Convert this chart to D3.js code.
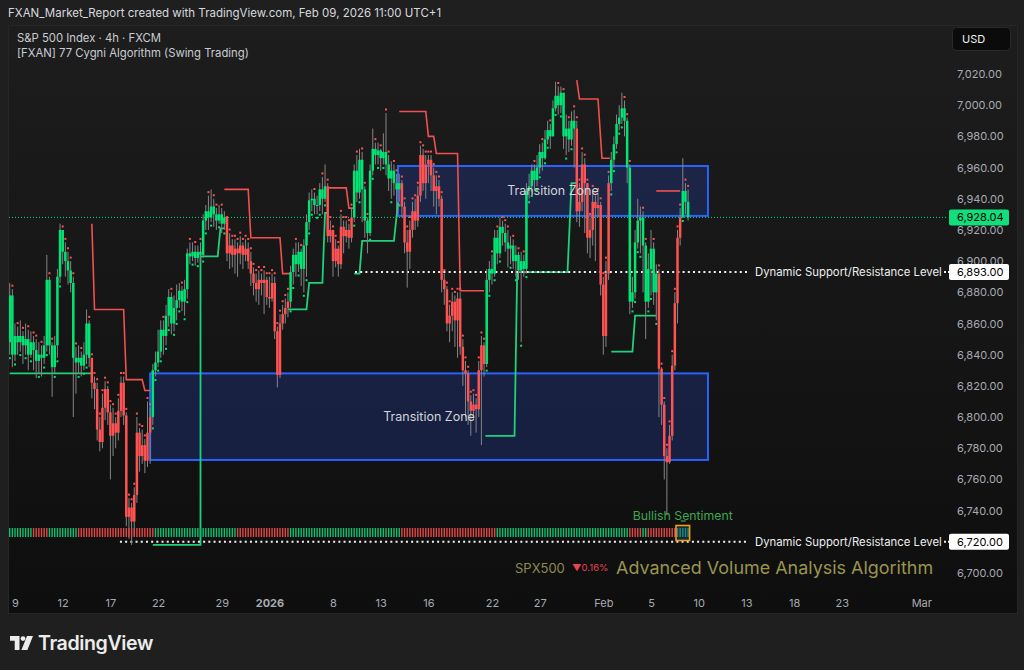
<!DOCTYPE html>
<html><head><meta charset="utf-8">
<script src="https://cdn.jsdelivr.net/npm/d3@7"></script>
<style>
html,body{margin:0;padding:0;background:#1f1f1f;}
svg{display:block;font-family:Inter,"Noto Sans",sans-serif;}
</style></head><body>
<svg id="c" width="1024" height="670"></svg>
<script>
// ---------------- DATA ----------------
const title = "FXAN_Market_Report created with TradingView.com, Feb 09, 2026 11:00 UTC+1";
const legendLines = ["S&P 500 Index · 4h · FXCM", "[FXAN] 77 Cygni Algorithm (Swing Trading)"];
const firstOpen = 6848;
const closes = [
6878,6840,6852,6848,6852,6846,6850,6840,6848,6843,
6836,6840,6838,6846,6888,6846,6832,6846,6890,6920,
6906,6900,6894,6886,6838,6835,6838,6833,6840,6860,
6838,6822,6818,6792,6784,6806,6818,6803,6788,6796,
6790,6804,6822,6801,6736,6742,6733,6750,6790,6775,
6782,6772,6790,6800,6830,6835,6842,6856,6852,6865,
6877,6860,6870,6875,6881,6874,6882,6905,6903,6906,
6902,6906,6904,6926,6932,6928,6935,6930,6926,6930,
6924,6928,6905,6910,6904,6908,6905,6910,6904,6908,
6900,6892,6886,6882,6888,6886,6888,6877,6876,6886,
6855,6827,6860,6866,6870,6874,6893,6904,6898,6906,
6895,6910,6925,6939,6940,6936,6936,6946,6940,6948,
6916,6920,6900,6908,6898,6922,6916,6920,6915,6928,
6958,6944,6965,6946,6926,6918,6958,6972,6968,6971,
6966,6970,6962,6953,6958,6950,6946,6950,6935,6912,
6906,6920,6932,6926,6942,6968,6950,6962,6965,6955,
6945,6948,6940,6888,6882,6860,6865,6874,6862,6876,
6845,6830,6828,6810,6804,6808,6805,6830,6846,6834,
6888,6895,6892,6915,6905,6922,6918,6912,6908,6910,
6900,6904,6894,6900,6895,6945,6948,6958,6952,6960,
6970,6966,6978,6984,6980,6998,7006,7000,7008,6980,
6985,6978,6990,6985,6932,6938,6962,6950,6915,6920,
6938,6934,6936,6885,6852,6892,6950,6965,6975,6988,
6992,6998,6990,6960,6874,6880,6912,6926,6928,6910,
6874,6895,6908,6880,6892,6831,6808,6775,6771,6788,
6833,6873,6915,6928,6945,6938,6928.04];
const highs = [
6886,6882,6860,6858,6862,6855,6860,6856,6855,6852,
6850,6848,6846,6852,6904,6890,6848,6852,6895,6924,
6920,6912,6906,6900,6890,6845,6846,6842,6848,6869,
6862,6838,6826,6822,6800,6815,6823,6820,6808,6806,
6800,6812,6826,6826,6803,6748,6745,6755,6800,6793,
6792,6786,6810,6806,6834,6842,6856,6862,6862,6872,
6882,6880,6878,6885,6886,6884,6888,6908,6912,6912,
6910,6910,6912,6930,6936,6942,6946,6940,6934,6936,
6934,6932,6926,6918,6914,6914,6912,6916,6912,6914,
6912,6906,6896,6892,6894,6892,6894,6890,6890,6892,
6890,6858,6866,6872,6876,6880,6897,6908,6912,6912,
6908,6914,6930,6944,6946,6944,6942,6950,6954,6962,
6950,6926,6920,6914,6910,6930,6926,6926,6924,6934,
6962,6968,6972,6970,6948,6928,6962,6985,6976,6976,
6972,6982,6995,6968,6964,6962,6956,6956,6952,6938,
6920,6926,6938,6940,6948,6974,6972,6968,6968,6968,
6960,6955,6952,6942,6892,6884,6872,6880,6878,6880,
6880,6850,6836,6830,6814,6815,6812,6836,6852,6848,
6895,6900,6904,6920,6920,6928,6926,6924,6920,6916,
6914,6910,6906,6906,6904,6950,6956,6962,6962,6968,
6975,6976,6984,6990,6988,7003,7015,7012,7012,7008,
6994,6990,6996,6997,6990,6950,6970,6966,6950,6928,
6946,6942,6944,6938,6890,6900,6955,6970,6980,6994,
7000,7008,7003,6992,6962,6890,6920,6940,6935,6932,
6912,6905,6920,6912,6898,6895,6832,6810,6780,6795,
6840,6880,6920,6934,6966,6950,6946];
const lows = [
6840,6832,6836,6840,6842,6834,6840,6830,6838,6830,
6825,6828,6826,6834,6842,6840,6813,6828,6838,6886,
6898,6890,6885,6880,6800,6815,6828,6826,6830,6834,
6832,6812,6805,6785,6778,6780,6798,6795,6760,6775,
6780,6785,6800,6795,6730,6722,6718,6724,6745,6765,
6770,6764,6768,6770,6795,6826,6832,6838,6840,6846,
6858,6853,6855,6862,6870,6868,6865,6876,6898,6900,
6897,6899,6899,6902,6920,6920,6925,6922,6920,6924,
6918,6920,6900,6895,6896,6892,6890,6898,6895,6900,
6895,6884,6878,6874,6872,6878,6866,6872,6870,6874,
6850,6819,6825,6856,6860,6864,6870,6885,6890,6893,
6884,6880,6890,6920,6932,6930,6930,6932,6930,6938,
6912,6912,6890,6896,6890,6895,6905,6912,6908,6912,
6925,6938,6940,6925,6915,6905,6916,6955,6962,6962,
6958,6962,6955,6945,6940,6942,6930,6938,6928,6905,
6883,6895,6915,6920,6922,6938,6945,6940,6950,6945,
6935,6930,6935,6880,6872,6855,6848,6855,6845,6838,
6840,6820,6800,6795,6788,6798,6790,6800,6782,6826,
6832,6880,6885,6890,6898,6902,6910,6906,6896,6898,
6895,6890,6888,6848,6890,6892,6940,6944,6946,6948,
6956,6958,6965,6975,6972,6984,6996,6994,6995,6972,
6968,6970,6974,6960,6925,6922,6932,6918,6905,6902,
6910,6900,6928,6878,6840,6845,6888,6945,6960,6972,
6984,6988,6980,6950,6866,6870,6876,6908,6905,6880,
6850,6870,6878,6872,6862,6800,6795,6760,6737,6770,
6785,6830,6860,6910,6928,6930,6926];
// trend colouring of candles (run-length: regime, number of bars)
const regimeRuns = [["up",31],["down",23],["up",28],["down",24],["up",14],["down",10],["up",18],["down",32],["up",34],["down",13],["up",18],["down",9],["up",3]];
// volume-analysis strip colouring (run-length)
const stripRuns = [["up",9],["down",6],["up",11],["down",29],["up",31],["down",20],["up",42],["down",36],["up",50],["down",5],["up",2],["down",11],["signal",5]];
// trailing resistance / support (bar index, price)
const resistanceSegments = [
  [[31,6924],[32,6869],[43,6869],[44,6824],[50,6824],[51,6817],[53,6817]],
  [[81,6946],[90,6946],[91,6915],[102,6915],[103,6892],[106,6892]],
  [[120,6947],[127,6947],[128,6934],[130,6934]],
  [[147,6996],[157,6996],[158,6980],[160,6980],[161,6969],[169,6969],[170,6881],[179,6881]],
  [[214,7016],[215,7004],[222,7004],[223.5,6966],[226.5,6966]],
  [[244,6945],[253,6945]]
];
const supportSegments = [
  [[0,6828],[31,6828]],
  [[54,6718],[72,6718],[72,6903],[78.5,6903],[79.5,6921],[81,6921]],
  [[105,6869],[112,6869],[113,6886],[118,6886],[119,6931],[120,6931]],
  [[130,6892],[132,6892],[133,6913],[145,6913],[146.5,6937],[147,6937]],
  [[179.5,6788],[190.5,6788],[191.5,6893],[210.5,6893],[212,6950],[214,6950]],
  [[227,6842],[235,6842],[236,6865],[244,6865]]
];
const zones = [
  {from:53, to:263.5, top:6828, bottom:6772.5, label:"Transition Zone"},
  {from:146.5, to:263.5, top:6961, bottom:6929, label:"Transition Zone"}
];
const levels = [{price:6893, from:130.3, to:278.6}, {price:6720, from:41.6, to:278.6}];
const levelLabel = "Dynamic Support/Resistance Level";
const lastPrice = 6928.04;
const priceTicks = [6700,6720,6740,6760,6780,6800,6820,6840,6860,6880,6900,6920,6940,6960,6980,7000,7020];
const dayTicks = [0,3,6,9,13,16,20,23,26,30,33,37,40,43,46,49,52,57];
const dayTickLabels = ["9","12","17","22","29","2026","8","13","16","22","27","Feb","5","10","13","18","23","Mar"];
const barsPerDay = 6;
const barsBeforeFirstTick = 2;
const sentimentText = "Bullish Sentiment";
const symbolText = "SPX500", changeText = "▼0.16%", footerTitle = "Advanced Volume Analysis Algorithm";

// ---------------- CHART ----------------
const svg = d3.select("#c");
const defs = svg.append("defs");
const grad = defs.append("linearGradient").attr("id","bg").attr("x1",0).attr("x2",0).attr("y1",0).attr("y2",1);
grad.append("stop").attr("offset","0%").attr("stop-color","#1d1d1d");
grad.append("stop").attr("offset","100%").attr("stop-color","#0e0e0e");
defs.append("clipPath").attr("id","plot").append("rect").attr("x",9).attr("y",26).attr("width",937).attr("height",562);

svg.append("rect").attr("width",1024).attr("height",670).attr("fill","#1f1f1f");
svg.append("rect").attr("x",8.5).attr("y",25.5).attr("width",1009).attr("height",588).attr("fill","url(#bg)").attr("stroke","#262626");

svg.append("text").attr("x",8).attr("y",17).attr("fill","#d6d8de").attr("font-size",11.5).text(title);
legendLines.forEach((t,i)=>svg.append("text").attr("x",17).attr("y",42+i*14.5).attr("fill","#c9ccd3").attr("font-size",11.3).text(t));

const y = d3.scaleLinear().domain([6700,7020]).range([573,74]);
const xDay = d3.scaleLinear().domain([0,57]).range([15,921.3]);
const xBar = i => xDay((i - barsBeforeFirstTick)/barsPerDay);

// expand run-lengths
const expand = runs => runs.flatMap(([k,n]) => Array(n).fill(k));
const regime = expand(regimeRuns);
const strip = expand(stripRuns);
const bars = closes.map((c,i)=>({i, o: i===0?firstOpen:closes[i-1], c, h: highs[i], l: lows[i], up: regime[i]==="up", s: strip[i]}));

const GREEN = "#00e676", RED = "#ff5252";
const plot = svg.append("g").attr("clip-path","url(#plot)");

// zones
zones.forEach(z=>{
  plot.append("rect").attr("x",xBar(z.from)).attr("y",y(z.top)).attr("width",xBar(z.to)-xBar(z.from)).attr("height",y(z.bottom)-y(z.top))
    .attr("fill","rgba(41,82,230,0.22)").attr("stroke","#2962ff").attr("stroke-width",2);
});

// last price line
plot.append("line").attr("x1",9).attr("x2",946).attr("y1",y(lastPrice)).attr("y2",y(lastPrice))
  .attr("stroke",GREEN).attr("stroke-width",1).attr("stroke-dasharray","1,2");

// trailing lines
const line = d3.line().x(d=>xBar(d[0])).y(d=>y(d[1]));
plot.selectAll(".sup").data(supportSegments).join("path").attr("d",line).attr("fill","none").attr("stroke","#1fd07c").attr("stroke-width",1.8);
plot.selectAll(".res").data(resistanceSegments).join("path").attr("d",line).attr("fill","none").attr("stroke","#f0504f").attr("stroke-width",1.6);

// levels
levels.forEach(l=>{
  plot.append("line").attr("x1",xBar(l.from)).attr("x2",xBar(l.to)).attr("y1",y(l.price)).attr("y2",y(l.price))
    .attr("stroke","#f2f2f2").attr("stroke-width",2).attr("stroke-dasharray","2,3.2");
  svg.append("text").attr("x",xBar(l.to)+7).attr("y",y(l.price)+4).attr("fill","#eeeeee").attr("font-size",11.35).text(levelLabel);
  svg.append("line").attr("x1",944).attr("x2",949).attr("y1",y(l.price)).attr("y2",y(l.price)).attr("stroke","#eee").attr("stroke-width",2).attr("stroke-dasharray","2,2");
});

// candles
const bw = 2.5;
plot.selectAll(".wick").data(bars).join("line")
  .attr("x1",d=>xBar(d.i)).attr("x2",d=>xBar(d.i))
  .attr("y1",d=>y(Math.max(d.h,d.o,d.c))).attr("y2",d=>y(Math.min(d.l,d.o,d.c)))
  .attr("stroke","#858585").attr("stroke-width",1);
plot.selectAll(".body").data(bars).join("rect")
  .attr("x",d=>xBar(d.i)-bw/2).attr("width",bw)
  .attr("y",d=>y(Math.max(d.o,d.c))).attr("height",d=>Math.max(1,Math.abs(y(d.o)-y(d.c))))
  .attr("fill",d=>d.up?GREEN:RED);

// markers
bars.forEach(d=>{
  const down = d.c < d.o;
  if(!d.up || down){
    plot.append("rect").attr("x",xBar(d.i)-1).attr("y",y(d.h)-4.5).attr("width",2).attr("height",2).attr("fill",RED);
  } else {
    plot.append("rect").attr("x",xBar(d.i)-1).attr("y",y(d.l)+2.5).attr("width",2).attr("height",2).attr("fill",GREEN);
  }
});

// zone labels
zones.forEach(z=>{
  plot.append("text").attr("x",(xBar(z.from)+xBar(z.to))/2).attr("y",y((z.top+z.bottom)/2)+4.5)
    .attr("text-anchor","middle").attr("fill","#d3d5db").attr("font-size",12.5).text(z.label);
});

// volume strip
const stripCol = {up:"#10c070", down:"#e04848", signal:"#1fa99a"};
plot.selectAll(".strip").data(bars).join("rect")
  .attr("x",d=>xBar(d.i)-0.7).attr("width",1.4).attr("y",528).attr("height",9)
  .attr("fill",d=>stripCol[d.s]);
const sig = bars.filter(d=>d.s==="signal");
const sx0 = xBar(sig[0].i)-1.5, sx1 = xBar(sig[sig.length-1].i)+1.5;
svg.append("rect").attr("x",sx0).attr("y",525.5).attr("width",sx1-sx0).attr("height",15).attr("fill","rgba(30,90,110,0.35)").attr("stroke","#f59a18").attr("stroke-width",1.6);
svg.append("line").attr("x1",(sx0+sx1)/2-2).attr("x2",(sx0+sx1)/2+3).attr("y1",521).attr("y2",521).attr("stroke","#3aa84a").attr("stroke-width",1.2);
svg.append("text").attr("x",(sx0+sx1)/2).attr("y",520).attr("text-anchor","middle").attr("fill","#3fa650").attr("font-size",12.3).text(sentimentText);

// footer texts
svg.append("text").attr("x",515).attr("y",573).attr("fill","#8f8a4e").attr("font-size",13).text(symbolText);
svg.append("text").attr("x",572).attr("y",571).attr("fill","#e8414f").attr("font-size",9.5).text(changeText);
svg.append("text").attr("x",616).attr("y",574).attr("fill","#9a944f").attr("font-size",17.95).text(footerTitle);

// price axis
const pa = svg.append("g").attr("transform","translate(948,0)")
  .call(d3.axisRight(y).tickValues(priceTicks).tickFormat(d3.format(",.2f")).tickSize(0).tickPadding(9));
pa.select(".domain").remove();
pa.selectAll("text").attr("fill","#a7aab2").attr("font-size",11).attr("font-family","Inter,sans-serif");

// price labels
function priceLabel(p, bg){
  const g = svg.append("g");
  g.append("rect").attr("x",949).attr("y",y(p)-8).attr("width",60).attr("height",16).attr("rx",2).attr("fill",bg);
  g.append("text").attr("x",957).attr("y",y(p)+4).attr("fill","#000").attr("font-size",11).text(d3.format(",.2f")(p));
}
levels.forEach(l=>priceLabel(l.price,"#ffffff"));
priceLabel(lastPrice, "#12df7c");

// USD button
svg.append("rect").attr("x",952.5).attr("y",27.5).attr("width",58).attr("height",23).attr("rx",4).attr("fill","#0b0b0b").attr("stroke","#2a2a2a");
svg.append("text").attr("x",962).attr("y",43).attr("fill","#f0f0f0").attr("font-size",11).text("USD");

// time axis
const ta = svg.append("g").attr("transform","translate(0,599)")
  .call(d3.axisBottom(xDay).tickValues(dayTicks).tickFormat((d,i)=>dayTickLabels[i]).tickSize(0).tickPadding(0));
ta.select(".domain").remove();
ta.selectAll("text").attr("fill","#a7aab2").attr("font-size",11).attr("font-family","Inter,sans-serif")
  .attr("font-weight",(d,i)=>dayTickLabels[i]==="2026"?"700":"400");

// TradingView logo
const logo = svg.append("g").attr("fill","#ececec");
logo.append("path").attr("d","M10,636 h9.5 v14 h-4.8 v-9.2 h-4.7 z");
logo.append("circle").attr("cx",23).attr("cy",638.6).attr("r",2.4);
logo.append("path").attr("d","M27,636 h6 l-5.6,14 h-6 z");
logo.append("text").attr("x",38).attr("y",650).attr("font-size",19.6).attr("font-weight",600).attr("letter-spacing",-0.4).text("TradingView");
</script>
</body></html>
